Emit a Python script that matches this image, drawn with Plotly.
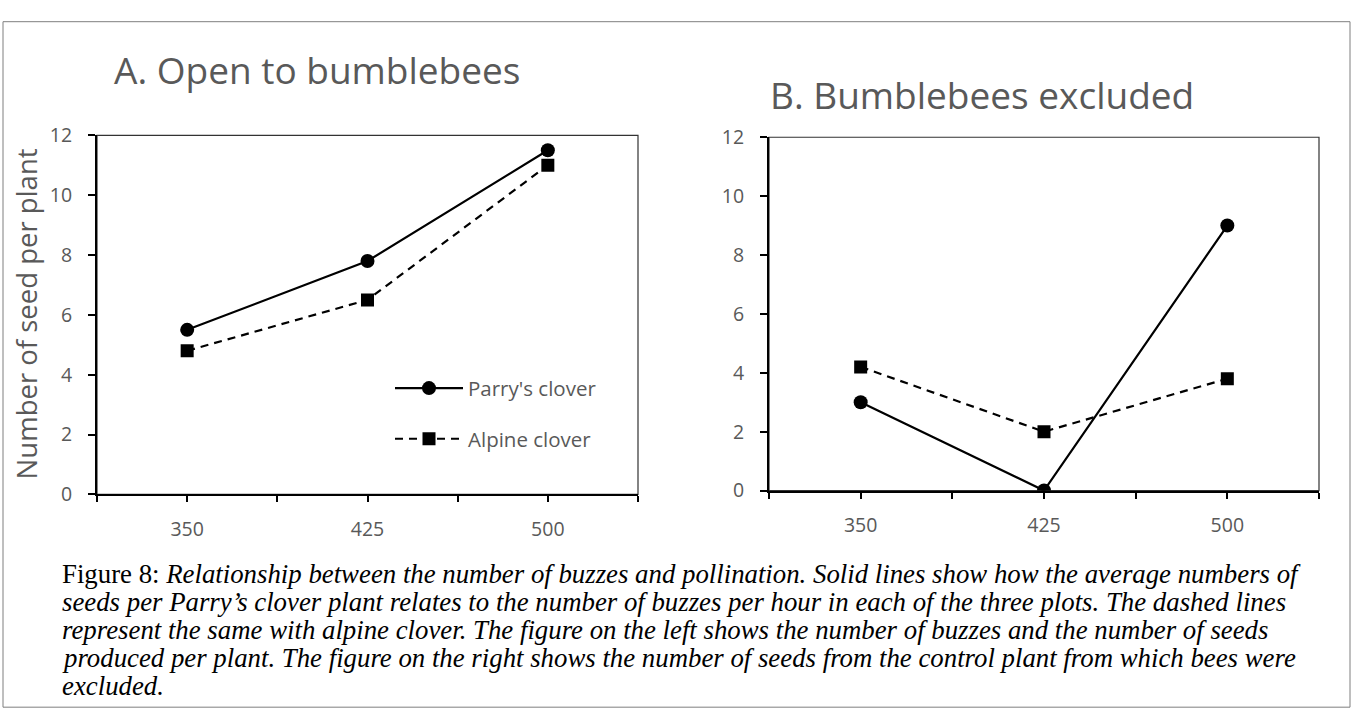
import plotly.graph_objects as go

# ---- data ----
buzzes = [350, 425, 500]
open_parry = [5.5, 7.8, 11.5]
open_alpine = [4.8, 6.5, 11.0]
excl_parry = [3.0, 0.0, 9.0]
excl_alpine = [4.2, 2.0, 3.8]
series_names = ["Parry's clover", "Alpine clover"]
panel_titles = ["A. Open to bumblebees", "B. Bumblebees excluded"]
y_title = "Number of seed per plant"
y_ticks = [0, 2, 4, 6, 8, 10, 12]
x_tickvals = [312.5, 350, 387.5, 425, 462.5, 500, 537.5]
x_ticktext = ["", "350", "", "425", "", "500", ""]
caption_lines = [
    "Figure 8: <i>Relationship between the number of buzzes and pollination. Solid lines show how the average numbers of</i>",
    "<i>seeds per Parry\u2019s clover plant relates to the number of buzzes per hour in each of the three plots. The dashed lines</i>",
    "<i>represent the same with alpine clover. The figure on the left shows the number of buzzes and the number of seeds</i>",
    "<i>produced per plant. The figure on the right shows the number of seeds from the control plant from which bees were</i>",
    "<i>excluded.</i>",
]

W, H = 1353, 725
FONT = "Open Sans"
GRAY = "#595959"
TICK_SIZE = 19.5

fig = go.Figure()

def add_series(xaxis, yaxis, parry, alpine, show):
    fig.add_trace(go.Scatter(
        x=buzzes, y=parry, name=series_names[0], mode="lines+markers",
        line=dict(color="black", width=2.2),
        marker=dict(symbol="circle", size=14, color="black"),
        xaxis=xaxis, yaxis=yaxis, showlegend=show, legendgroup="p"))
    fig.add_trace(go.Scatter(
        x=buzzes, y=alpine, name=series_names[1], mode="lines+markers",
        line=dict(color="black", width=2.2, dash="8px,6px"),
        marker=dict(symbol="square", size=13, color="black"),
        xaxis=xaxis, yaxis=yaxis, showlegend=show, legendgroup="a"))

add_series("x", "y", open_parry, open_alpine, True)
add_series("x2", "y2", excl_parry, excl_alpine, False)

L_dom = [97 / W, 638 / W]
R_dom = [769 / W, 1319 / W]
L_y = [(H - 499) / H, (H - 126) / H]
R_y = [(H - 495) / H, (H - 128) / H]

xcommon = dict(range=[312.5, 537.5], tickmode="array", tickvals=x_tickvals,
               ticktext=x_ticktext, ticks="outside", ticklen=6, tickwidth=2,
               tickcolor="black", showline=True, linecolor="black", linewidth=2,
               showgrid=False, zeroline=False, ticklabelstandoff=10,
               tickfont=dict(family=FONT, size=TICK_SIZE, color=GRAY), fixedrange=True)
ycommon = dict(range=[0, 12], tickmode="array", tickvals=y_ticks,
               ticks="outside", ticklen=7, tickwidth=1.5, tickcolor="black",
               showline=True, linecolor="black", linewidth=2, showgrid=False,
               zeroline=False, ticklabelstandoff=12,
               tickfont=dict(family=FONT, size=TICK_SIZE, color=GRAY),
               fixedrange=True)

fig.update_layout(
    width=W, height=H, margin=dict(l=0, r=0, t=0, b=0),
    paper_bgcolor="white", plot_bgcolor="white",
    xaxis=dict(domain=L_dom, anchor="y", **xcommon),
    yaxis=dict(domain=L_y, anchor="x", **ycommon),
    xaxis2=dict(domain=R_dom, anchor="y2", **xcommon),
    yaxis2=dict(domain=R_y, anchor="x2", **ycommon),
    legend=dict(x=390 / W, y=(H - 368) / H, xanchor="left", yanchor="top",
                bgcolor="rgba(0,0,0,0)", font=dict(family=FONT, size=20.5, color=GRAY),
                itemwidth=68, tracegroupgap=21, traceorder="grouped"),
    showlegend=True,
)

# plot-area boxes (thin top/right borders)
for xr, yr in [("x domain", "y domain"), ("x2 domain", "y2 domain")]:
    fig.add_shape(type="rect", xref=xr, yref=yr, x0=0, x1=1, y0=0, y1=1,
                  line=dict(color="#333333", width=1.2), layer="below")

# outer frame
fig.add_shape(type="rect", xref="paper", yref="paper", x0=3 / W, x1=1350 / W,
              y0=(H - 720) / H, y1=(H - 8) / H, line=dict(color="#7f7f7f", width=1))

# y axis title
fig.add_annotation(text=y_title, xref="paper", yref="paper", x=26 / W, y=(H - 312) / H,
                   xanchor="center", yanchor="middle", textangle=-90, showarrow=False,
                   font=dict(family=FONT, size=27.5, color=GRAY))

# panel titles
fig.add_annotation(text=panel_titles[0], xref="paper", yref="paper",
                   x=112 / W, y=(H - 58) / H, xanchor="left", yanchor="middle",
                   showarrow=False, font=dict(family=FONT, size=37, color=GRAY))
fig.add_annotation(text=panel_titles[1], xref="paper", yref="paper",
                   x=768 / W, y=(H - 84) / H, xanchor="left", yanchor="middle",
                   showarrow=False, font=dict(family=FONT, size=37, color=GRAY))

# caption
for i, line in enumerate(caption_lines):
    fig.add_annotation(text=line, xref="paper", yref="paper",
                       x=60 / W, y=(H - (582 + 29 * i)) / H,
                       xanchor="left", yanchor="middle", showarrow=False,
                       font=dict(family="Liberation Serif", size=26.8, color="black"))

fig.write_html("out.html", config={"displayModeBar": False},
               post_script="document.body.style.margin='0';")
